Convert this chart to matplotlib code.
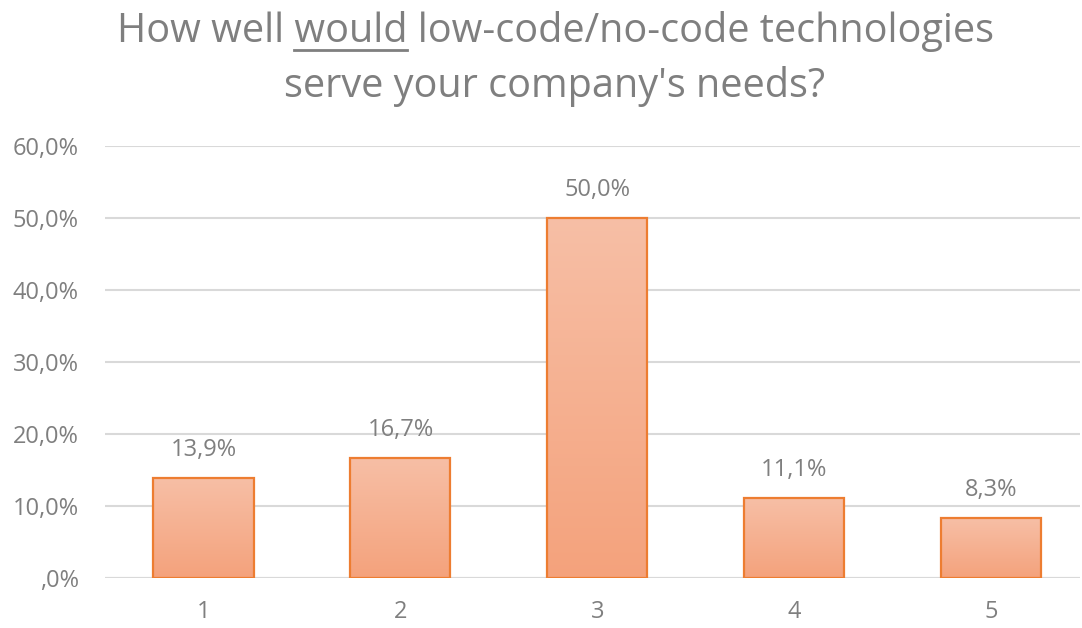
import numpy as np
import matplotlib
matplotlib.use("Agg")
import matplotlib.pyplot as plt
from matplotlib.colors import LinearSegmentedColormap
from matplotlib.lines import Line2D

categories = ["1", "2", "3", "4", "5"]
values = [13.9, 16.7, 50.0, 11.1, 8.3]
y_ticks = [0, 10, 20, 30, 40, 50, 60]
y_tick_labels = [",0%", "10,0%", "20,0%", "30,0%", "40,0%", "50,0%", "60,0%"]
title_line1 = ("How well ", "would", " low-code/no-code technologies")
title_line2 = "serve your company's needs?"

FONT = "Open Sans"
GRAY = "#7F7F7F"
W, H = 1082, 628
fig = plt.figure(figsize=(W / 100, H / 100), dpi=100)
ax = fig.add_axes([105 / W, 50 / H, (1080 - 105) / W, (578 - 146) / H])

x = np.arange(len(categories))
bars = ax.bar(x, values, width=0.508, facecolor="none", edgecolor="#ED7D31",
              linewidth=1.6, zorder=3)

# vertical gradient fill inside each bar
grad = LinearSegmentedColormap.from_list("g", ["#F4A27C", "#F7BFA6"])
gimg = np.linspace(0, 1, 256).reshape(-1, 1)
for b in bars:
    x0, y0 = b.get_x(), b.get_y()
    w, h = b.get_width(), b.get_height()
    im = ax.imshow(gimg, cmap=grad, origin="lower", aspect="auto",
                   extent=[x0, x0 + w, y0, y0 + h], zorder=2)
    im.set_clip_path(b)

for xi, v in zip(x, values):
    ax.text(xi, v + 3.9, f"{v:.1f}".replace(".", ",") + "%", ha="center",
            va="center", fontsize=17, color=GRAY, family=FONT)

ax.set_xlim(-0.5, 4.45)
ax.set_ylim(0, 60)
ax.set_yticks(y_ticks)
ax.set_yticklabels(y_tick_labels)
ax.set_xticks(x)
ax.set_xticklabels(categories)
ax.tick_params(length=0, labelsize=17, labelcolor=GRAY)
ax.tick_params(axis="y", pad=19)
ax.tick_params(axis="x", pad=16)
for lab in ax.get_xticklabels() + ax.get_yticklabels():
    lab.set_family(FONT)
ax.grid(axis="y", color="#D9D9D9", linewidth=1.5, zorder=0)
ax.set_axisbelow(True)
for s in ax.spines.values():
    s.set_visible(False)
ax.axhline(0, color="#D9D9D9", linewidth=1.5, zorder=1)

# two-line title with the word "would" underlined
renderer = fig.canvas.get_renderer()
tsize = 28.5
tx = 555 / W
full1 = "".join(title_line1)
t1 = fig.text(tx, 1 - 42 / H, full1, ha="center", va="baseline",
              fontsize=tsize, color=GRAY, family=FONT)
fig.text(tx, 1 - 97 / H, title_line2, ha="center", va="baseline",
         fontsize=tsize, color=GRAY, family=FONT)
bb = t1.get_window_extent(renderer)

def width_of(s):
    t = fig.text(0, 0, s, fontsize=tsize, family=FONT)
    w = t.get_window_extent(renderer).width
    t.remove()
    return w

pre = width_of(title_line1[0] + "x") - width_of("x")
word = width_of(title_line1[1])
ux0 = bb.x0 + pre
yline = (H - 50) / H
fig.add_artist(Line2D([ux0 / W, (ux0 + word) / W], [yline, yline],
                      transform=fig.transFigure, color=GRAY, linewidth=2))

fig.savefig("out.png", dpi=100)
